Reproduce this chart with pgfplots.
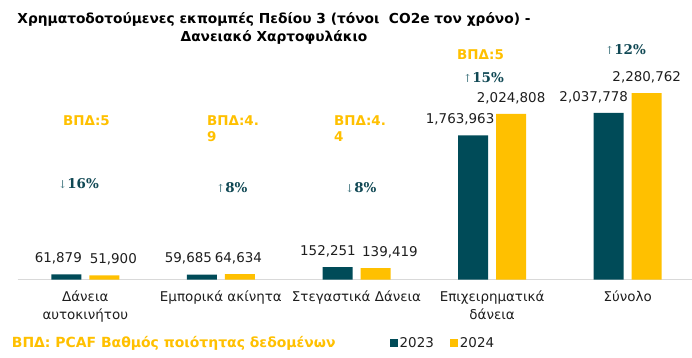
\documentclass[border=0pt]{standalone}
\usepackage{pgfplots}
\pgfplotsset{compat=1.18}
\usepackage{fontspec}
\setmainfont{DejaVu Sans}
\newfontfamily\pctfont{DejaVu Serif}
\definecolor{teal23}{RGB}{0,75,88}
\definecolor{gold24}{RGB}{255,192,0}
\definecolor{pcttxt}{RGB}{16,72,84}
\definecolor{arrowc}{RGB}{70,120,130}
\definecolor{lbl}{RGB}{30,30,30}
\definecolor{axln}{RGB}{217,217,217}

\pgfplotstableread{
x y dx lab
0 61879 -8 61,879
1 59685 -13.5 59,685
2 152251 -9.5 152,251
3 1763963 -13 1,763,963
4 2037778 -15 2,037,778
}\dataA
\pgfplotstableread{
x y dx lab
0 51900 9 51,900
1 64634 -1.5 64,634
2 139419 14.5 139,419
3 2024808 0 2,024,808
4 2280762 0 2,280,762
}\dataB

\begin{document}
\begin{tikzpicture}
\useasboundingbox (0,0) rectangle (692bp,-358bp);
\begin{axis}[
 at={(17.5bp,-279.5bp)}, anchor=south west,
 scale only axis, width=678bp, height=249.5bp,
 xmin=-0.5, xmax=4.5, ymin=0, ymax=3051230,
 ybar=8bp, bar width=30bp,
 axis x line=bottom, axis y line=none,
 x axis line style={draw=axln, line width=0.75bp, -},
 xtick={0,1,2,3,4}, major tick length=0pt,
 xticklabels={{Δάνεια\\αυτοκινήτου},{Εμπορικά ακίνητα},{Στεγαστικά Δάνεια},{Επιχειρηματικά\\δάνεια},{Σύνολο}},
 xticklabel style={align=center, font=\fontsize{13.5}{18}\selectfont, text=lbl, anchor=north, yshift=-8bp},
 nodes near coords, point meta=explicit symbolic,
 visualization depends on={\thisrow{dx} \as \dx},
 every node near coord/.append style={anchor=center, yshift=16bp, xshift=\dx bp, font=\fontsize{13.5}{16}\selectfont, text=lbl},
 legend style={at={(axis description cs:0.5494,-0.2545)}, anchor=west, draw=none, fill=none, legend columns=2, font=\fontsize{13.5}{16}\selectfont, text=lbl, /tikz/every even column/.append style={column sep=14.5bp}, inner sep=0pt, cells={anchor=west}},
 legend image code/.code={\fill[#1] (0bp,-3.75bp) rectangle (7.5bp,3.75bp);},
]
\addplot[fill=teal23, draw=none] table[x=x,y=y,meta=lab] {\dataA};
\addplot[fill=gold24, draw=none] table[x=x,y=y,meta=lab] {\dataB};
\legend{2023,2024}
\end{axis}
% title
\node[font=\bfseries\fontsize{13.8}{16}\selectfont, text=black] at (274bp,-19bp) {Χρηματοδοτούμενες εκπομπές Πεδίου 3 (τόνοι\ \ CO2e τον χρόνο) -};
\node[font=\bfseries\fontsize{13.8}{16}\selectfont, text=black] at (274bp,-37bp) {Δανειακό Χαρτοφυλάκιο};
% footer
\node[font=\bfseries\fontsize{14}{16}\selectfont, text=gold24, anchor=west, inner sep=0pt] at (11.7bp,-343bp) {ΒΠΔ: PCAF Βαθμός ποιότητας δεδομένων};
% BPD annotations
\begin{scope}[every node/.style={font=\bfseries\fontsize{13.5}{17}\selectfont, text=gold24, anchor=north west, inner sep=0pt, align=left}]
\node at (63bp,-115bp) {ΒΠΔ:5};
\node at (207bp,-115bp) {ΒΠΔ:4.\\9};
\node at (334bp,-115bp) {ΒΠΔ:4.\\4};
\node at (457bp,-49bp) {ΒΠΔ:5};
\end{scope}
\begin{scope}[every node/.style={font=\pctfont\bfseries\fontsize{13.5}{16}\selectfont, text=pcttxt, anchor=west, inner sep=0pt}]
\node at (58bp,-184bp) {{\mdseries\fontsize{11}{14}\selectfont\color{arrowc}↓}16\%};
\node at (216bp,-187.5bp) {{\mdseries\fontsize{11}{14}\selectfont\color{arrowc}↑}8\%};
\node at (345bp,-187.5bp) {{\mdseries\fontsize{11}{14}\selectfont\color{arrowc}↓}8\%};
\node at (463bp,-77.5bp) {{\mdseries\fontsize{11}{14}\selectfont\color{arrowc}↑}15\%};
\node at (605bp,-49.5bp) {{\mdseries\fontsize{11}{14}\selectfont\color{arrowc}↑}12\%};
\end{scope}
\end{tikzpicture}
\end{document}
